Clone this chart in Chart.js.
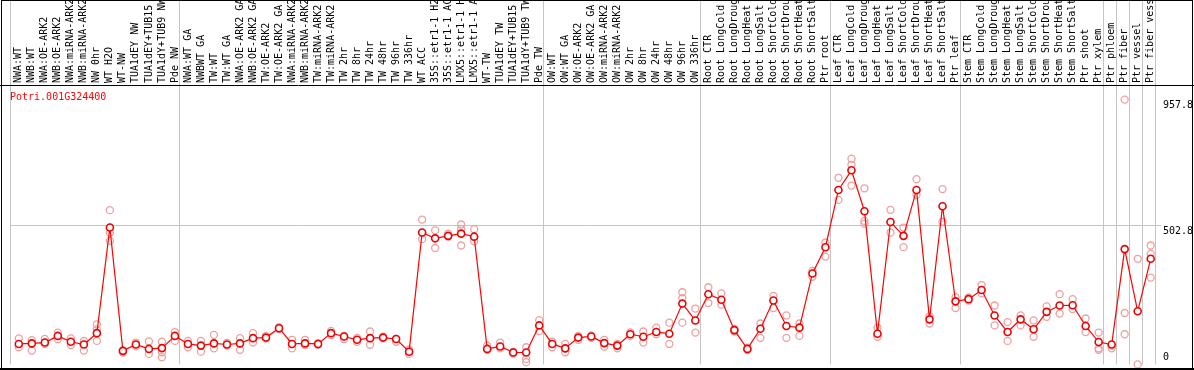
<!DOCTYPE html>
<html>
<head>
<meta charset="utf-8">
<script src="https://cdn.jsdelivr.net/npm/chart.js@4"></script>
<style>
  html, body { margin: 0; padding: 0; background: #fff; }
  canvas { display: block; }
</style>
</head>
<body>
<canvas id="exprChart" width="1194" height="370"></canvas>
<script>
// gene shown in the plot
const geneName = 'Potri.001G324400';

// sample names, left to right
const categories = [
  'NWA:WT', 'NWB:WT', 'NWA:OE-ARK2', 'NWB:OE-ARK2', 'NWA:miRNA-ARK2', 'NWB:miRNA-ARK2',
  'NW 0hr', 'WT H2O', 'WT-NW', 'TUA1dEY NW', 'TUA1dEY+TUB15 NW', 'TUA1dY+TUB9 NW', 'Pde NW',
  'NWA:WT GA', 'NWBWT GA', 'TW:WT', 'TW:WT GA', 'NWA:OE-ARK2 GA', 'NWB:OE-ARK2 GA',
  'TW:OE-ARK2', 'TW:OE-ARK2 GA', 'NWA:miRNA-ARK2', 'NWB:miRNA-ARK2', 'TW:miRNA-ARK2',
  'TW:miRNA-ARK2', 'TW 2hr', 'TW 8hr', 'TW 24hr', 'TW 48hr', 'TW 96hr', 'TW 336hr',
  'WT ACC', '35S::etr1-1 H2O', '35S::etr1-1 ACC', 'LMX5::etr1-1 H2O', 'LMX5::etr1-1 ACC',
  'WT-TW', 'TUA1dEY TW', 'TUA1dEY+TUB15 TW', 'TUA1dY+TUB9 TW', 'Pde TW',
  'OW:WT', 'OW:WT GA', 'OW:OE-ARK2', 'OW:OE-ARK2 GA', 'OW:miRNA-ARK2', 'OW:miRNA-ARK2',
  'OW 2hr', 'OW 8hr', 'OW 24hr', 'OW 48hr', 'OW 96hr', 'OW 336hr',
  'Root CTR', 'Root LongCold', 'Root LongDrought', 'Root LongHeat', 'Root LongSalt',
  'Root ShortCold', 'Root ShortDrought', 'Root ShortHeat', 'Root ShortSalt', 'Ptr root',
  'Leaf CTR', 'Leaf LongCold', 'Leaf LongDrought', 'Leaf LongHeat', 'Leaf LongSalt',
  'Leaf ShortCold', 'Leaf ShortDrought', 'Leaf ShortHeat', 'Leaf ShortSalt', 'Ptr leaf',
  'Stem CTR', 'Stem LongCold', 'Stem LongDrought', 'Stem LongHeat', 'Stem LongSalt',
  'Stem ShortCold', 'Stem ShortDrought', 'Stem ShortHeat', 'Stem ShortSalt',
  'Ptr shoot', 'Ptr xylem', 'Ptr phloem', 'Ptr fiber', 'Ptr vessel', 'Ptr fiber vessel'
];

// mean expression per sample
const means = [
  74, 76, 79, 103, 82, 72, 113, 495, 49, 72, 56, 59, 103,
  74, 68, 76, 72, 76, 95, 97, 131, 74, 76, 74, 113, 101, 89, 95, 97, 92, 46,
  477, 456, 465, 473, 462, 56, 65, 43, 43, 141,
  74, 58, 97, 101, 77, 68, 109, 100, 117, 111, 220, 159,
  254, 234, 124, 56, 129, 231, 139, 133, 329, 424,
  631, 702, 554, 111, 515, 465, 631, 163, 572, 228,
  236, 269, 177, 117, 163, 127, 190, 213, 214, 139, 81, 72, 417, 192, 382
];

// replicate values per sample
const replicates = [
  [94, 62], [88, 50], [92, 74], [115, 92], [94, 70], [85, 50], [145, 127, 85], [558, 477, 447],
  [50, 43], [79, 65], [83, 38], [82, 44, 26], [117, 85],
  [85, 62], [85, 46], [107, 58], [78, 68], [95, 53], [113, 79], [103, 93], [135, 128],
  [89, 58], [89, 70], [77, 71], [121, 106], [103, 92], [82, 96], [119, 71], [100, 94],
  [92, 82], [53, 38],
  [524, 453], [485, 421], [473, 462], [506, 489, 430], [489, 445],
  [68, 53], [79, 58], [46, 39], [62, 20, 8], [160, 121],
  [82, 62], [74, 44], [89, 103], [105, 96], [89, 64], [74, 58], [116, 103], [119, 79],
  [133, 109], [151, 74], [261, 240, 151], [202, 115],
  [279, 222], [257, 216], [128, 119], [61, 52], [148, 96], [248, 204], [177, 96], [148, 103],
  [317, 338], [441, 390],
  [675, 595], [744, 722, 647], [637, 519, 509], [133, 100], [559, 477], [495, 424],
  [670, 613], [148, 174], [634, 516], [243, 204],
  [242, 231], [287, 257], [213, 141], [153, 85], [177, 141], [159, 100], [210, 172],
  [254, 184], [236, 200], [166, 117], [115, 58, 53], [58, 68], [957.8, 186, 109],
  [382, 0], [430, 400, 314]
];

// sample index where each grey divider sits
const groupBreaks = [0, 13, 41, 53, 63, 73, 84, 85, 86, 87, 88];

// labels on the right side
const yTicks = [957.8, 502.8, 0];
const gridValue = 502.8;

const meanPoints = means.map((v, i) => ({ x: i, y: v }));
const repPoints = [];
replicates.forEach((reps, i) => reps.forEach(v => repPoints.push({ x: i, y: v })));

const MONO = '10px "DejaVu Sans Mono", "Liberation Mono", monospace';
const SHIFT = 2.3; // dividers sit a bit left of the cell centres

const framePlugin = {
  id: 'frame',
  beforeDatasetsDraw(chart) {
    const ctx = chart.ctx;
    const xs = chart.scales.x, ys = chart.scales.y;
    const area = chart.chartArea;
    ctx.save();
    ctx.fillStyle = '#fff';
    ctx.fillRect(0, 0, chart.width, chart.height);
    ctx.strokeStyle = '#c4c4c4';
    ctx.lineWidth = 1;
    groupBreaks.forEach(k => {
      const x = Math.round(xs.getPixelForValue(k - 0.5) - SHIFT) + 0.5;
      ctx.beginPath();
      ctx.moveTo(x, 0);
      ctx.lineTo(x, area.bottom);
      ctx.stroke();
    });
    const gy = Math.round(ys.getPixelForValue(gridValue)) + 0.5;
    ctx.beginPath();
    ctx.moveTo(Math.round(xs.getPixelForValue(-0.5) - SHIFT), gy);
    ctx.lineTo(1161, gy);
    ctx.stroke();
    ctx.restore();
  },
  afterDraw(chart) {
    const ctx = chart.ctx;
    const xs = chart.scales.x, ys = chart.scales.y;
    const area = chart.chartArea;
    ctx.save();
    ctx.font = MONO;
    ctx.fillStyle = '#000';
    // sample labels, written upwards
    categories.forEach((name, i) => {
      ctx.save();
      ctx.translate(xs.getPixelForValue(i), 83);
      ctx.rotate(-Math.PI / 2);
      ctx.textAlign = 'left';
      ctx.textBaseline = 'middle';
      ctx.fillText(name, 0, 0);
      ctx.restore();
    });
    // value labels
    ctx.textAlign = 'left';
    ctx.textBaseline = 'middle';
    yTicks.forEach(v => {
      const y = Math.min(ys.getPixelForValue(v) + 6, area.bottom - 7);
      ctx.fillText(String(v), 1163, y);
    });
    // gene name
    ctx.fillStyle = '#ff0000';
    ctx.fillText(geneName, 10, 97);
    // frame
    ctx.strokeStyle = '#000';
    ctx.lineWidth = 1;
    ctx.beginPath();
    ctx.moveTo(0, 85.5);
    ctx.lineTo(chart.width, 85.5);
    ctx.stroke();
    ctx.strokeRect(1.5, 0.5, chart.width - 3, 368);
    ctx.lineWidth = 2;
    ctx.beginPath();
    ctx.moveTo(0, 369);
    ctx.lineTo(chart.width, 369);
    ctx.stroke();
    ctx.restore();
  }
};

new Chart(document.getElementById('exprChart').getContext('2d'), {
  type: 'line',
  data: {
    datasets: [
      {
        label: 'mean',
        data: meanPoints,
        borderColor: '#ff0000',
        borderWidth: 1.2,
        pointRadius: 3.5,
        pointBorderWidth: 1.6,
        pointBorderColor: '#ee0000',
        pointBackgroundColor: '#ffffff',
        tension: 0,
        clip: false
      },
      {
        label: 'replicates',
        data: repPoints,
        showLine: false,
        pointRadius: 3.5,
        pointBorderWidth: 1.3,
        pointBorderColor: '#eea0a0',
        pointBackgroundColor: 'rgba(0,0,0,0)',
        clip: false
      }
    ]
  },
  options: {
    responsive: false,
    animation: false,
    devicePixelRatio: 1,
    layout: { padding: { left: 12.3, right: 36.8, top: 86, bottom: 1 } },
    scales: {
      x: { type: 'linear', display: false, min: -0.5, max: categories.length - 0.5 },
      y: { display: false, min: 0, max: 1007 }
    },
    plugins: { legend: { display: false }, tooltip: { enabled: false } }
  },
  plugins: [framePlugin]
});
</script>
</body>
</html>
